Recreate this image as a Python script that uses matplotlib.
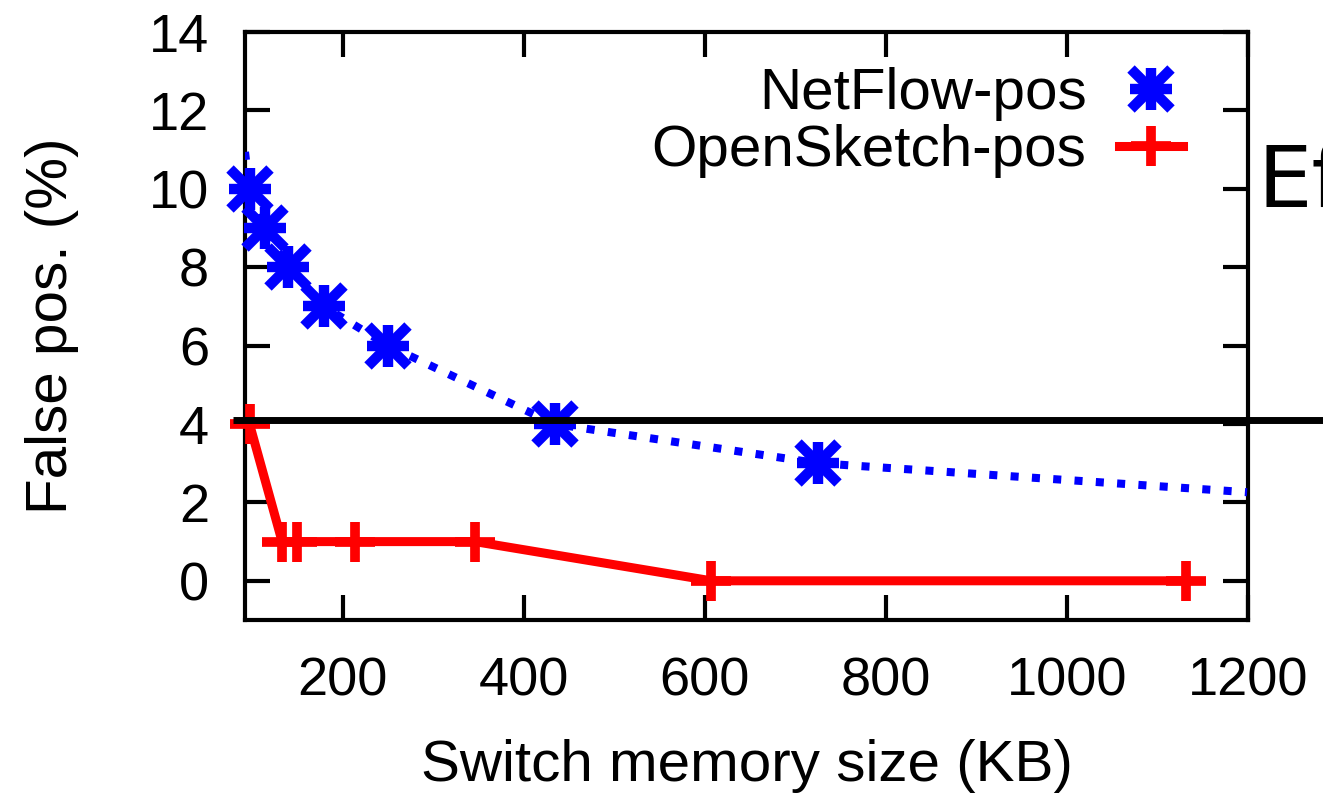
import matplotlib
matplotlib.use("Agg")
import matplotlib.pyplot as plt
from matplotlib.lines import Line2D
from matplotlib.legend_handler import HandlerTuple

plt.rcParams['font.family'] = ['Liberation Sans', 'DejaVu Sans']

# NetFlow-pos markers
netflow_x = [97, 114, 139, 179, 250, 434, 725]
netflow_y = [10, 9, 8, 7, 6, 4, 3]
# NetFlow-pos dotted curve (extends to plot edges)
netflow_line_x = [92, 97, 114, 139, 179, 250, 434, 725, 1199]
netflow_line_y = [10.94, 10, 9, 8, 7, 6, 4, 3, 2.26]

# OpenSketch-pos
opensketch_x = [97, 133, 149, 213, 346, 607, 1131]
opensketch_y = [4, 1, 1, 1, 1, 0, 0]

threshold = 4.1

x_ticks = [200, 400, 600, 800, 1000, 1200]
y_ticks = [0, 2, 4, 6, 8, 10, 12, 14]

fig = plt.figure(figsize=(13.23, 7.96), dpi=100)
ax = fig.add_axes([245/1323, 1-620/796, (1248-245)/1323, (620-32)/796])

blue = '#0000ff'
red = '#ff0000'

ax.plot(netflow_line_x, netflow_line_y, color=blue, lw=5.8, linestyle=(0, (1, 1.65)),
        dash_capstyle='butt', zorder=3)
ax.plot(netflow_x, netflow_y, linestyle='none', marker='+', ms=30, mew=7.5,
        color=blue, clip_on=False, zorder=4)
ax.plot(netflow_x, netflow_y, linestyle='none', marker='x', ms=29, mew=7.5,
        color=blue, clip_on=False, zorder=4)

ax.plot(opensketch_x, opensketch_y, color=red, lw=6.5, marker='+', ms=29, mew=7,
        clip_on=False, zorder=3, solid_joinstyle='miter')

# threshold line running past the plot to the figure edge
ax.plot([-0.012, 1.2], [threshold, threshold], color='black', lw=5,
        transform=ax.get_yaxis_transform(), clip_on=False, zorder=5,
        solid_capstyle='butt')

ax.set_xlim(92, 1200)
ax.set_ylim(-1, 14)
ax.set_xticks(x_ticks)
ax.set_yticks(y_ticks)
ax.tick_params(axis='both', direction='in', length=18, width=3,
               top=True, right=True, labelsize=39)
ax.tick_params(axis='x', pad=26)
ax.tick_params(axis='y', pad=26)
for s in ax.spines.values():
    s.set_linewidth(3)

ax.set_xlabel('Switch memory size (KB)', fontsize=42, labelpad=24)
ax.set_ylabel('False pos. (%)', fontsize=42, labelpad=50)

h1 = (Line2D([], [], linestyle='none', marker='+', ms=30, mew=7.5, color=blue),
      Line2D([], [], linestyle='none', marker='x', ms=29, mew=7.5, color=blue))
h2 = Line2D([], [], color=red, lw=6.5, marker='+', ms=29, mew=7)
leg = ax.legend([h1, h2], ['NetFlow-pos', 'OpenSketch-pos'],
                handler_map={tuple: HandlerTuple(ndivide=1, pad=0)},
                loc='upper right', bbox_to_anchor=(0.935, 0.94),
                frameon=False, markerfirst=False, fontsize=42,
                handlelength=1.1, handletextpad=0.55, labelspacing=0.05,
                borderpad=0, borderaxespad=0)

fig.text(1258/1323, 1-207/796, 'Ef', fontsize=62, family='DejaVu Sans',
         ha='left', va='baseline')

fig.savefig('out.png', dpi=100)
